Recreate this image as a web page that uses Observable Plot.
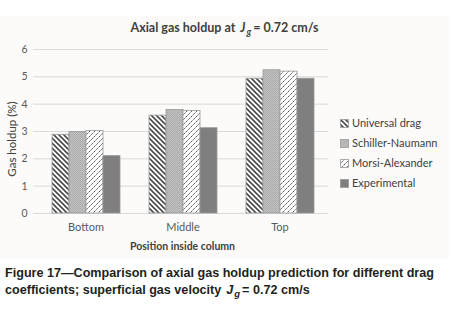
<!DOCTYPE html>
<html><head><meta charset="utf-8">
<script src="https://cdn.jsdelivr.net/npm/d3@7"></script>
<script src="https://cdn.jsdelivr.net/npm/@observablehq/plot@0.6"></script>
<style>
html,body{margin:0;padding:0;background:#fff;}
#wrap{position:relative;width:461px;height:310px;overflow:hidden;}
#box{position:absolute;left:0;top:16px;width:449px;height:243px;background:#fcfbf9;}
#title{position:absolute;left:0;width:449px;top:4px;text-align:center;font:bold 12.5px Lato,sans-serif;color:#404040;}
#ylab{position:absolute;left:11px;top:123px;transform:translate(-50%,-50%) rotate(-90deg);white-space:nowrap;font:11.5px Lato,sans-serif;color:#404040;}
#xlab{position:absolute;left:37px;width:291px;top:224px;text-align:center;font:bold 10.5px Lato,sans-serif;color:#404040;}
#legend{position:absolute;left:340px;top:97px;font:11px Lato,sans-serif;color:#404040;}
#legend div{height:20px;line-height:14px;display:flex;align-items:center;}
#legend svg{margin-right:3px;}
#caption{position:absolute;left:5px;top:265px;width:456px;font:bold 12.6px "Liberation Sans Narrow","Arial Narrow",sans-serif;color:#231f20;line-height:17px;}
#caption div{white-space:nowrap;}
.sb{display:inline-block;position:relative;top:3px;font-size:0.75em;font-style:italic;margin-left:1px;margin-right:2px;}
.jj{display:inline-block;font-style:italic;margin-left:2px;}
#plot{position:absolute;left:0;top:0;}
</style></head>
<body><div id="wrap"><div id="box">
<div id="plot"></div>
<div id="title">Axial gas holdup at <span class="jj">J</span><span class="sb">g</span>= 0.72 cm/s</div>
<div id="ylab">Gas holdup (%)</div>
<div id="xlab">Position inside column</div>
<div id="legend"></div>
</div>
<div id="caption"><div>Figure 17—Comparison of axial gas holdup prediction for different drag</div><div><span>coefficients; superficial gas velocity</span><span class="jj" style="margin-left:5px">J</span><span class="sb">g</span><span>= 0.72 cm/s</span></div></div>
</div>
<script>
const categories = ["Bottom", "Middle", "Top"];
const seriesNames = ["Universal drag", "Schiller-Naumann", "Morsi-Alexander", "Experimental"];
const universalDrag = [2.88, 3.58, 4.93];
const schillerNaumann = [2.98, 3.79, 5.24];
const morsiAlexander = [3.02, 3.75, 5.19];
const experimental = [2.10, 3.12, 4.93];
const yTicks = [0, 1, 2, 3, 4, 5, 6];

const valuesBySeries = [universalDrag, schillerNaumann, morsiAlexander, experimental];
const data = [];
seriesNames.forEach((s, i) => categories.forEach((c, j) => data.push({cat: c, series: s, value: valuesBySeries[i][j]})));

const fills = ["url(#pUD)", "url(#pSN)", "url(#pMA)", "#7f7f7f"];

const defs = `
<pattern id="pUD" patternUnits="userSpaceOnUse" width="5" height="5">
<rect width="5" height="5" fill="#fff"/>
<path d="M-1,-1 L6,6 M-1,4 L1,6 M4,-1 L6,1" stroke="#4a4a4a" stroke-width="1.6"/>
</pattern>
<pattern id="pSN" patternUnits="userSpaceOnUse" width="2" height="2">
<rect width="2" height="2" fill="#c2c2c2"/>
<rect width="1" height="1" fill="#a8a8a8"/>
<rect x="1" y="1" width="1" height="1" fill="#b0b0b0"/>
</pattern>
<pattern id="pMA" patternUnits="userSpaceOnUse" width="5" height="5">
<rect width="5" height="5" fill="#fff"/>
<path d="M-1,6 L6,-1 M-1,1 L1,-1 M4,6 L6,4" stroke="#555" stroke-width="1" stroke-dasharray="2.2,1"/>
</pattern>`;

const chart = Plot.plot({
  width: 449, height: 243,
  marginLeft: 37, marginRight: 121, marginTop: 33, marginBottom: 46,
  style: {background: "transparent", fontFamily: "Lato, sans-serif", fontSize: "10px", color: "#595959", overflow: "visible"},
  fx: {domain: categories, padding: 0, label: null},
  x: {domain: seriesNames, paddingInner: 0, paddingOuter: 0.73, axis: null},
  y: {domain: [0, 6], label: null},
  color: {domain: seriesNames, range: fills},
  marks: [
    Plot.gridY(yTicks, {stroke: "#d9d9d9", strokeOpacity: 1}),
    Plot.barY(data, {fx: "cat", x: "series", y: "value", fill: "series", stroke: "#9a9a9a", strokeWidth: 0.8}),
    Plot.axisY(yTicks, {tickSize: 4, tickPadding: 6, stroke: "#d9d9d9", label: null, fill: "#595959", fontSize: 10.5, tickFormat: d => d}),
    Plot.ruleX([0], {frameAnchor: "left", stroke: "#d9d9d9", facetAnchor: "left"}),
    Plot.axisFx({anchor: "bottom", tickSize: 0, tickPadding: 10, label: null, fill: "#595959", fontSize: 11})
  ]
});
chart.insertAdjacentHTML("afterbegin", "<defs>" + defs + "</defs>");
document.getElementById("plot").appendChild(chart);

// legend
const leg = document.getElementById("legend");
seriesNames.forEach((s, i) => {
  const row = document.createElement("div");
  row.innerHTML = `<svg width="9" height="9"><defs>${defs.replace(/id="p/g, 'id="L' + i + 'p')}</defs><rect x="0.5" y="0.5" width="8" height="8" fill="${fills[i].replace('#p', '#L' + i + 'p')}" stroke="#9a9a9a" stroke-width="0.8"/></svg><span>${s}</span>`;
  leg.appendChild(row);
});
</script>
</body></html>
